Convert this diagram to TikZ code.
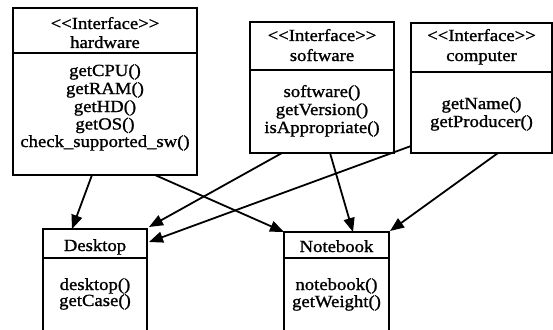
\documentclass[tikz,border=0pt]{standalone}
\usepackage{fontspec}
\setmainfont[FakeStretch=1.1,FakeBold=1.2]{Liberation Serif}
\usetikzlibrary{arrows.meta}
\begin{document}
\begin{tikzpicture}[x=1pt,y=1pt,
  box/.style={draw, line width=2pt, anchor=north west, inner sep=0pt, outer sep=0pt},
  divider/.style={line width=2pt},
  txt/.style={inner sep=0pt, anchor=base, font=\fontsize{17}{18}\selectfont},
  arr/.style={-{Triangle[length=14pt,width=11pt]}, line width=1.8pt}]
\useasboundingbox (0,0) rectangle (553,-329);
\clip (0,0) rectangle (553,-329);
% class boxes
\node[box, minimum width=184pt, minimum height=167pt] (hw) at (13,-8) {};
\node[box, minimum width=144pt, minimum height=131pt] (sw) at (250,-22) {};
\node[box, minimum width=141pt, minimum height=130pt] (cp) at (411,-23) {};
\node[box, minimum width=104pt, minimum height=120pt] (dt) at (43,-229) {};
\node[box, minimum width=105pt, minimum height=120pt] (nb) at (284,-232) {};
% dividers
\draw[divider] ([yshift=-45pt]hw.north west) -- ([yshift=-45pt]hw.north east);
\draw[divider] ([yshift=-48pt]sw.north west) -- ([yshift=-48pt]sw.north east);
\draw[divider] ([yshift=-49pt]cp.north west) -- ([yshift=-49pt]cp.north east);
\draw[divider] ([yshift=-29pt]dt.north west) -- ([yshift=-29pt]dt.north east);
\draw[divider] ([yshift=-26pt]nb.north west) -- ([yshift=-26pt]nb.north east);
% hardware
\node[txt] (hwS) at (105,-29) {{<}{<}Interface{>}{>}};
\node[txt] (hwN) at (105,-48) {hardware};
\node[txt] (hw1) at (105,-76) {getCPU()};
\node[txt] (hw2) at (105,-94) {getRAM()};
\node[txt] (hw3) at (105,-112) {getHD()};
\node[txt] (hw4) at (105,-129.5) {getOS()};
\node[txt] (hw5) at (105,-147) {check\_supported\_sw()};
% software
\node[txt] (swS) at (322,-41) {{<}{<}Interface{>}{>}};
\node[txt] (swN) at (322,-61) {software};
\node[txt] (sw1) at (322,-97) {software()};
\node[txt] (sw2) at (322,-115) {getVersion()};
\node[txt] (sw3) at (322,-133) {isAppropriate()};
% computer
\node[txt] (cpS) at (481.5,-41) {{<}{<}Interface{>}{>}};
\node[txt] (cpN) at (481.5,-61) {computer};
\node[txt] (cp1) at (481.5,-109) {getName()};
\node[txt] (cp2) at (481.5,-127) {getProducer()};
% Desktop
\node[txt] (dtN) at (95,-251) {Desktop};
\node[txt] (dt1) at (95,-290) {desktop()};
\node[txt] (dt2) at (95,-306) {getCase()};
% Notebook
\node[txt] (nbN) at (336.5,-252) {Notebook};
\node[txt] (nb1) at (336.5,-290) {notebook()};
\node[txt] (nb2) at (336.5,-307) {getWeight()};
% connectors
\draw[arr] ([xshift=79pt]hw.south west) -- ([xshift=29pt]dt.north west);
\draw[arr] ([xshift=142pt]hw.south west) -- (nb.north west);
\draw[arr] ([xshift=32pt]sw.south west) -- ([xshift=2pt,yshift=2pt]dt.north east);
\draw[arr] ([yshift=7pt]cp.south west) -- ([xshift=2pt,yshift=-13pt]dt.north east);
\draw[arr] ([xshift=80pt]sw.south west) -- ([xshift=69pt]nb.north west);
\draw[arr] ([xshift=87pt]cp.south west) -- ([xshift=1pt,yshift=1pt]nb.north east);
\end{tikzpicture}
\end{document}
